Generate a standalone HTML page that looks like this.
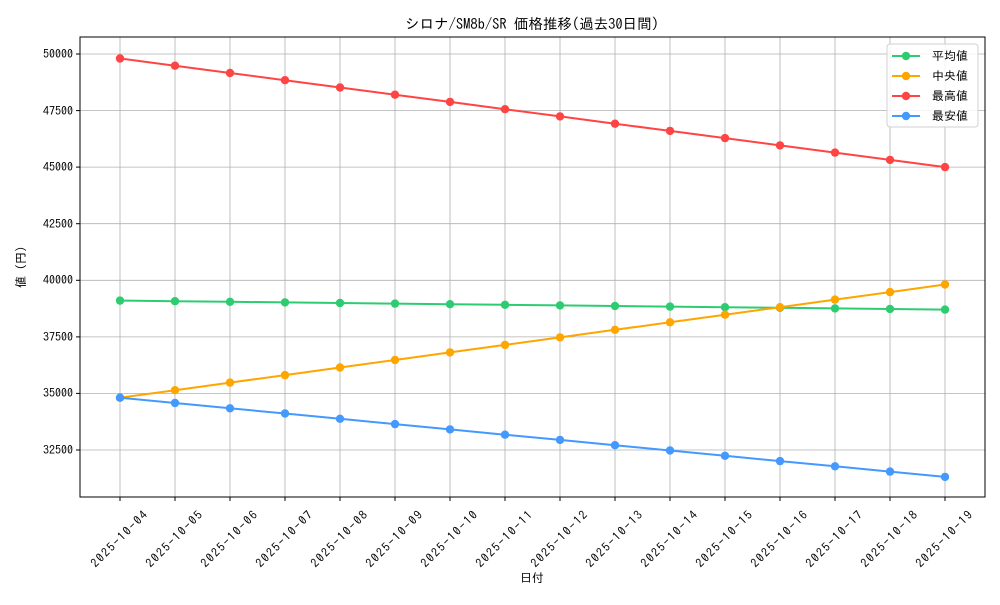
<!DOCTYPE html>
<html><head><meta charset="utf-8"><style>body{margin:0;background:#fff}svg text{font-family:"IPAGothic","Liberation Mono","Noto Sans CJK JP",monospace;font-size:12px;fill:#000}</style></head><body>
<svg width="1000" height="600" xmlns="http://www.w3.org/2000/svg">
<defs>
<marker id="mg" markerWidth="10" markerHeight="10" refX="5" refY="5" markerUnits="userSpaceOnUse"><circle cx="5" cy="5" r="4.2" fill="#2ecc71"/></marker>
<marker id="mo" markerWidth="10" markerHeight="10" refX="5" refY="5" markerUnits="userSpaceOnUse"><circle cx="5" cy="5" r="4.2" fill="#ffa500"/></marker>
<marker id="mr" markerWidth="10" markerHeight="10" refX="5" refY="5" markerUnits="userSpaceOnUse"><circle cx="5" cy="5" r="4.2" fill="#ff4444"/></marker>
<marker id="mb" markerWidth="10" markerHeight="10" refX="5" refY="5" markerUnits="userSpaceOnUse"><circle cx="5" cy="5" r="4.2" fill="#4499ff"/></marker>
</defs>
<text x="532" y="29" text-anchor="middle" style="font-size:14.5px">シロナ/SM8b/SR 価格推移(過去30日間)</text>
<g stroke="#b0b0b0" stroke-width="0.8">
<line x1="120" y1="37" x2="120" y2="497"/><line x1="175" y1="37" x2="175" y2="497"/><line x1="230" y1="37" x2="230" y2="497"/><line x1="285" y1="37" x2="285" y2="497"/><line x1="340" y1="37" x2="340" y2="497"/><line x1="395" y1="37" x2="395" y2="497"/><line x1="450" y1="37" x2="450" y2="497"/><line x1="505" y1="37" x2="505" y2="497"/><line x1="560" y1="37" x2="560" y2="497"/><line x1="615" y1="37" x2="615" y2="497"/><line x1="670" y1="37" x2="670" y2="497"/><line x1="725" y1="37" x2="725" y2="497"/><line x1="780" y1="37" x2="780" y2="497"/><line x1="835" y1="37" x2="835" y2="497"/><line x1="890" y1="37" x2="890" y2="497"/><line x1="945" y1="37" x2="945" y2="497"/>
<line x1="80" y1="54" x2="985" y2="54"/><line x1="80" y1="110.6" x2="985" y2="110.6"/><line x1="80" y1="167.1" x2="985" y2="167.1"/><line x1="80" y1="223.7" x2="985" y2="223.7"/><line x1="80" y1="280.3" x2="985" y2="280.3"/><line x1="80" y1="336.9" x2="985" y2="336.9"/><line x1="80" y1="393.4" x2="985" y2="393.4"/><line x1="80" y1="450" x2="985" y2="450"/>
</g>
<rect x="80" y="37" width="905" height="460" fill="none" stroke="#000" stroke-width="1"/>
<g stroke="#000"><line x1="76" y1="54" x2="80" y2="54"/><line x1="76" y1="110.6" x2="80" y2="110.6"/><line x1="76" y1="167.1" x2="80" y2="167.1"/><line x1="76" y1="223.7" x2="80" y2="223.7"/><line x1="76" y1="280.3" x2="80" y2="280.3"/><line x1="76" y1="336.9" x2="80" y2="336.9"/><line x1="76" y1="393.4" x2="80" y2="393.4"/><line x1="76" y1="450" x2="80" y2="450"/>
<line x1="120" y1="497" x2="120" y2="501"/><line x1="175" y1="497" x2="175" y2="501"/><line x1="230" y1="497" x2="230" y2="501"/><line x1="285" y1="497" x2="285" y2="501"/><line x1="340" y1="497" x2="340" y2="501"/><line x1="395" y1="497" x2="395" y2="501"/><line x1="450" y1="497" x2="450" y2="501"/><line x1="505" y1="497" x2="505" y2="501"/><line x1="560" y1="497" x2="560" y2="501"/><line x1="615" y1="497" x2="615" y2="501"/><line x1="670" y1="497" x2="670" y2="501"/><line x1="725" y1="497" x2="725" y2="501"/><line x1="780" y1="497" x2="780" y2="501"/><line x1="835" y1="497" x2="835" y2="501"/><line x1="890" y1="497" x2="890" y2="501"/><line x1="945" y1="497" x2="945" y2="501"/></g>
<g text-anchor="end"><text x="73" y="58">50000</text><text x="73" y="115">47500</text><text x="73" y="171">45000</text><text x="73" y="228">42500</text><text x="73" y="284">40000</text><text x="73" y="341">37500</text><text x="73" y="397">35000</text><text x="73" y="454">32500</text></g>
<g text-anchor="middle" style="font-size:13px">
<text transform="translate(122,542) rotate(-45)" textLength="74">2025-10-04</text><text transform="translate(177,542) rotate(-45)" textLength="74">2025-10-05</text><text transform="translate(232,542) rotate(-45)" textLength="74">2025-10-06</text><text transform="translate(287,542) rotate(-45)" textLength="74">2025-10-07</text><text transform="translate(342,542) rotate(-45)" textLength="74">2025-10-08</text><text transform="translate(397,542) rotate(-45)" textLength="74">2025-10-09</text><text transform="translate(452,542) rotate(-45)" textLength="74">2025-10-10</text><text transform="translate(507,542) rotate(-45)" textLength="74">2025-10-11</text><text transform="translate(562,542) rotate(-45)" textLength="74">2025-10-12</text><text transform="translate(617,542) rotate(-45)" textLength="74">2025-10-13</text><text transform="translate(672,542) rotate(-45)" textLength="74">2025-10-14</text><text transform="translate(727,542) rotate(-45)" textLength="74">2025-10-15</text><text transform="translate(782,542) rotate(-45)" textLength="74">2025-10-16</text><text transform="translate(837,542) rotate(-45)" textLength="74">2025-10-17</text><text transform="translate(892,542) rotate(-45)" textLength="74">2025-10-18</text><text transform="translate(947,542) rotate(-45)" textLength="74">2025-10-19</text>
</g>
<text x="532" y="582" text-anchor="middle">日付</text>
<text transform="translate(25,267) rotate(-90)" text-anchor="middle">値 (円)</text>
<g fill="none" stroke-width="2">
<polyline stroke="#2ecc71" marker-start="url(#mg)" marker-mid="url(#mg)" marker-end="url(#mg)" points="120,300.6 175,301.2 230,301.8 285,302.4 340,303 395,303.6 450,304.2 505,304.8 560,305.4 615,306 670,306.6 725,307.2 780,307.8 835,308.4 890,309 945,309.6"/>
<polyline stroke="#ffa500" marker-start="url(#mo)" marker-mid="url(#mo)" marker-end="url(#mo)" points="120,397.7 175,390.2 230,382.6 285,375.1 340,367.5 395,360 450,352.4 505,344.9 560,337.4 615,329.8 670,322.3 725,314.7 780,307.2 835,299.6 890,292.1 945,284.5"/>
<polyline stroke="#ff4444" marker-start="url(#mr)" marker-mid="url(#mr)" marker-end="url(#mr)" points="120,58.5 175,65.7 230,73 285,80.2 340,87.5 395,94.7 450,101.9 505,109.2 560,116.4 615,123.7 670,130.9 725,138.1 780,145.4 835,152.6 890,159.9 945,167.1"/>
<polyline stroke="#4499ff" marker-start="url(#mb)" marker-mid="url(#mb)" marker-end="url(#mb)" points="120,397.7 175,403 230,408.3 285,413.5 340,418.8 395,424.1 450,429.4 505,434.7 560,439.9 615,445.2 670,450.5 725,455.8 780,461.1 835,466.3 890,471.6 945,476.9"/>
</g>
<rect x="887" y="44" width="91" height="83" rx="3" fill="#fff" fill-opacity="0.85" stroke="#d0d0d0"/>
<g stroke-width="2">
<line x1="892" y1="56" x2="920" y2="56" stroke="#2ecc71"/><circle cx="906" cy="56" r="4.2" fill="#2ecc71"/>
<line x1="892" y1="76" x2="920" y2="76" stroke="#ffa500"/><circle cx="906" cy="76" r="4.2" fill="#ffa500"/>
<line x1="892" y1="96" x2="920" y2="96" stroke="#ff4444"/><circle cx="906" cy="96" r="4.2" fill="#ff4444"/>
<line x1="892" y1="116" x2="920" y2="116" stroke="#4499ff"/><circle cx="906" cy="116" r="4.2" fill="#4499ff"/>
</g>
<text x="932" y="60">平均値</text><text x="932" y="80">中央値</text><text x="932" y="100">最高値</text><text x="932" y="120">最安値</text>
</svg>
</body></html>
